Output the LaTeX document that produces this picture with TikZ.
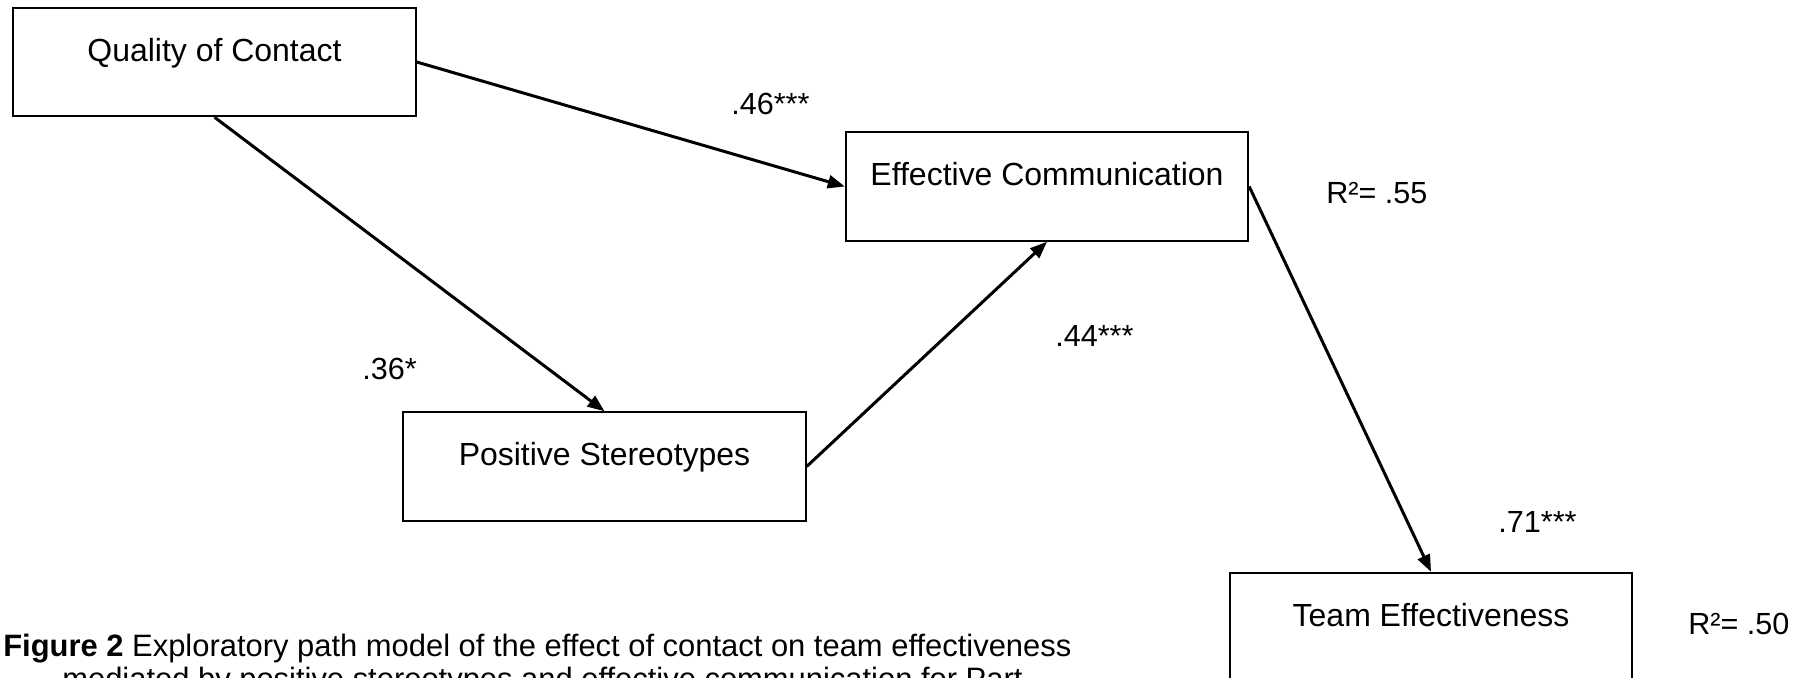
\documentclass[tikz,border=0pt]{standalone}
\usepackage{fontspec}
\setmainfont{Liberation Sans}
\usetikzlibrary{arrows.meta}

\newcommand{\boxfont}{\fontsize{18.2}{21}\selectfont}
\newcommand{\coeffont}{\fontsize{17.4}{20}\selectfont}
\newcommand{\capfont}{\fontsize{17.6}{20}\selectfont}

\tikzset{
    varbox/.style={draw, line width=0.04cm, inner sep=0pt, minimum width=8.05cm, text height=1.07cm, text depth=1.1cm, font=\boxfont},
    link/.style={line width=0.06cm, -{Triangle[length=0.34cm, width=0.26cm]}},
    coef/.style={anchor=base west, inner sep=0pt, font=\coeffont}
}

\begin{document}
\begin{tikzpicture}[x=0.02cm, y=-0.02cm]
    \useasboundingbox (0,0) rectangle (1816,678);
    \node[varbox] (qual) at (214.5,62) {Quality of Contact};
    \node[varbox] (comm) at (1047,186.5) {Effective Communication};
    \node[varbox] (stereo) at (604.5,466.5) {Positive Stereotypes};
    \node[varbox] (team) at (1431,627) {Team Effectiveness};

    \draw[link] (qual.east) -- (comm.west);
    \draw[link] (qual.south) -- (stereo.north);
    \draw[link] (stereo.east) -- (comm.south);
    \draw[link] (comm.east) -- (team.north);

    \node[coef] (c46) at (731,115) {.46***}; \node[coef] (r55) at (1326,204) {R²= .55};
    \node[coef] (c44) at (1055,347) {.44***}; \node[coef] (c36) at (362,380) {.36*};
    \node[coef] (c71) at (1498,533) {.71***}; \node[coef] (r50) at (1688,635) {R²= .50};

    \node[coef, font=\capfont] (cap1) at (3,657) {\bfseries Figure 2\mdseries\ Exploratory path model of the effect of contact on team effectiveness};
    \node[coef, font=\capfont] (cap2) at (62,689) {mediated by positive stereotypes and effective communication for Part};
\end{tikzpicture}
\end{document}
